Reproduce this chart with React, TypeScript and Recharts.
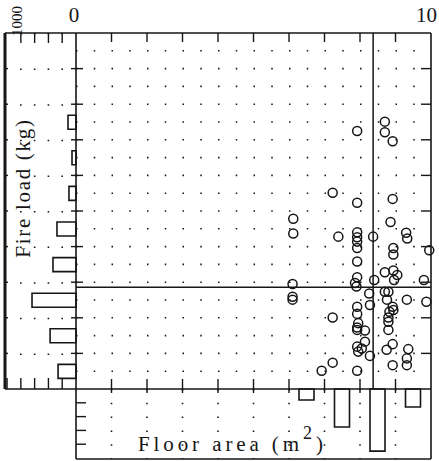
import React from 'react';
import {
  ComposedChart,
  Scatter,
  Bar,
  XAxis,
  YAxis,
  ZAxis,
  CartesianGrid,
  ReferenceLine,
} from 'recharts';

const W = 439;
const H = 461;
const INK = '#161616';
const T = 0.01; // near-zero axis thickness, so the plot sits right on the margins

// scatter: floor area (m2) vs fire load (kg)
const floorArea = [
  8.7, 7.92, 8.7, 8.92, 7.23, 8.92, 7.92, 6.12, 8.86, 6.12, 7.39, 7.92, 7.92, 7.92, 8.37, 9.3, 9.33,
  8.94, 8.94, 7.92, 9.95, 7.92, 8.7, 8.94, 9.05, 8.96, 7.92, 7.86, 7.9, 8.4, 6.1, 9.8, 6.1, 6.1,
  8.26, 8.7, 8.8, 8.76, 8.28, 9.32, 9.87, 7.92, 8.92, 8.94, 8.83, 7.92, 8.8, 8.8, 7.23, 7.95, 7.92,
  7.92, 8.14, 8.8, 8.14, 7.92, 8.05, 7.95, 8.28, 8.75, 8.92, 9.36, 9.32, 9.32, 7.23, 8.92, 6.92, 7.92,
];
const fireLoad = [
  751, 725, 721, 696, 551, 534, 523, 478, 469, 437, 428, 440, 426, 414, 428, 439, 423,
  396, 378, 396, 390, 358, 328, 333, 320, 306, 314, 298, 288, 306, 295, 306, 259, 251,
  268, 273, 273, 251, 236, 251, 245, 231, 231, 222, 217, 211, 201, 189, 201, 185, 173,
  166, 164, 166, 133, 119, 114, 105, 93, 110, 126, 112, 86, 67, 74, 67, 51, 51,
];

// mean lines
const meanArea = 8.37;
const meanLoad = 286;

// marginal histogram of fire load (left panel)
const loadBins = [50, 150, 250, 350, 450, 550, 650, 750];
const loadShare = [13.0, 18.8, 31.9, 16.7, 13.8, 5.1, 2.9, 5.8];

// marginal histogram of floor area (bottom panel)
const areaBins = [6.5, 7.5, 8.5, 9.5];
const areaShare = [8, 27.5, 45, 13];

const areaTicks = [0, 1, 2, 3, 4, 5, 6, 7, 8, 9, 10];
const areaEnds = [0, 10];
const areaInner = [1, 2, 3, 4, 5, 6, 7, 8, 9];
const loadTicks = [0, 100, 200, 300, 400, 500, 600, 700, 800, 900, 1000];
const loadInner = [100, 200, 300, 400, 500, 600, 700, 800, 900];
const loadHalf = [
  50, 100, 150, 200, 250, 300, 350, 400, 450, 500, 550, 600, 650, 700, 750, 800, 850, 900, 950,
];
const shareTicks = [10, 20, 30, 40, 50];
const shareInner = [10, 20, 30, 40];

const areaDomain: [number, number] = [0, 10];
const loadDomain: [number, number] = [0, 1000];
const leftShareDomain: [number, number] = [0, 51.5];
const bottomShareDomain: [number, number] = [0, 50.7];

const points = floorArea.map((a, i) => ({ area: a, load: fireLoad[i] }));
const loadHist = loadBins.map((b, i) => ({ load: b, share: loadShare[i] }));
const areaHist = areaBins.map((b, i) => ({ area: b, share: areaShare[i] }));

// frame tick anchors, placed through the axis scales
const topTicks = areaInner.map((a) => ({ area: a, load: loadDomain[1] }));
const bottomTicks = areaInner.map((a) => ({ area: a, load: loadDomain[0] }));
const leftTicks = loadInner.map((l) => ({ area: areaDomain[0], load: l }));
const rightTicks = loadInner.map((l) => ({ area: areaDomain[1], load: l }));
const panelTopTicks = shareInner.map((s) => ({ share: s, load: loadDomain[1] }));

const serif = '"Liberation Serif", "DejaVu Serif", serif';

// tick marks only, no labels
const Blank = () => <g />;

// short line from the anchor point, offsets in px
const tickShape = (dx1: number, dy1: number, dx2: number, dy2: number) => (p: any) => (
  <line
    x1={p.cx + dx1}
    y1={p.cy + dy1}
    x2={p.cx + dx2}
    y2={p.cy + dy2}
    stroke={INK}
    strokeWidth={1.4}
  />
);

const TopTick = (props: any) => {
  const { x, payload } = props;
  const end = payload.value === 10;
  return (
    <text
      x={end ? x + 6 : x - 2}
      y={22}
      textAnchor={end ? 'end' : 'middle'}
      fontFamily={serif}
      fontSize={21}
      fill={INK}
    >
      {payload.value}
    </text>
  );
};

// grid positions: linear map of the values over the plot box
const xGrid = (vals: number[], [d0, d1]: [number, number], rev = false) => (p: any) =>
  vals.map((v) => {
    const t = (v - d0) / (d1 - d0);
    return p.offset.left + (rev ? 1 - t : t) * p.offset.width;
  });
const yGrid = (vals: number[], [d0, d1]: [number, number], rev = false) => (p: any) =>
  vals.map((v) => {
    const t = (v - d0) / (d1 - d0);
    return p.offset.top + (rev ? t : 1 - t) * p.offset.height;
  });

const abs = (left: number, top: number, extra: React.CSSProperties = {}): React.CSSProperties => ({
  position: 'absolute',
  left,
  top,
  whiteSpace: 'nowrap',
  lineHeight: 1,
  color: INK,
  fontFamily: serif,
  ...extra,
});

const axisLine = { stroke: INK, strokeWidth: 1.6 };
const tickLine = { stroke: INK, strokeWidth: 1.4 };

export default function App() {
  return (
    <div style={{ position: 'absolute', left: 0, top: 0, width: W, height: H, background: '#fff' }}>
      {/* left panel: fire load histogram */}
      <div style={{ position: 'absolute', left: 0, top: 0 }}>
        <ComposedChart
          width={W}
          height={H}
          layout="vertical"
          data={loadHist}
          margin={{ top: 33, left: 5, right: W - 76, bottom: 72 }}
        >
          <CartesianGrid
            xAxisId="b"
            yAxisId="l"
            horizontal={false}
            verticalCoordinatesGenerator={xGrid(shareInner, leftShareDomain, true)}
            stroke={INK}
            strokeWidth={1.6}
            strokeDasharray="1.5 34.1"
          />
          <XAxis xAxisId="b" type="number" dataKey="share" domain={leftShareDomain} reversed orientation="bottom"
            ticks={shareTicks} interval={0} mirror tick={Blank} tickSize={11} height={T}
            axisLine={axisLine} tickLine={tickLine} />
          <XAxis xAxisId="t" type="number" dataKey="share" domain={leftShareDomain} reversed orientation="top"
            ticks={shareInner} interval={0} mirror tick={Blank} tickLine={false} height={T} axisLine={axisLine} />
          <YAxis yAxisId="l" type="number" dataKey="load" domain={loadDomain} reversed orientation="left"
            ticks={loadInner} interval={0} mirror tick={Blank} tickSize={3} width={T}
            axisLine={{ stroke: INK, strokeWidth: 3 }} tickLine={tickLine} />
          <Bar xAxisId="b" yAxisId="l" dataKey="share" barSize={14} fill="none" stroke={INK} strokeWidth={1.6}
            isAnimationActive={false} />
          <Scatter xAxisId="b" yAxisId="l" data={panelTopTicks} shape={tickShape(0, 0, 0, 10)}
            isAnimationActive={false} />
        </ComposedChart>
      </div>

      {/* bottom panel: floor area histogram */}
      <div style={{ position: 'absolute', left: 0, top: 0 }}>
        <ComposedChart
          width={W}
          height={H}
          data={areaHist}
          margin={{ top: 389, left: 76, right: 8, bottom: 2 }}
        >
          <CartesianGrid
            xAxisId="b"
            yAxisId="l"
            horizontal={false}
            verticalCoordinatesGenerator={xGrid(areaInner, areaDomain)}
            stroke={INK}
            strokeWidth={1.6}
            strokeDasharray="1.5 12.31"
          />
          <XAxis xAxisId="b" type="number" dataKey="area" domain={areaDomain} ticks={areaTicks} orientation="bottom"
            interval={0} tick={Blank} tickLine={false} height={T} axisLine={axisLine} />
          <YAxis yAxisId="l" type="number" domain={bottomShareDomain} reversed orientation="left" ticks={shareInner}
            interval={0} mirror tick={Blank} tickSize={10} width={T} axisLine={axisLine} tickLine={tickLine} />
          <YAxis yAxisId="r" type="number" domain={bottomShareDomain} reversed orientation="right" ticks={shareInner}
            interval={0} mirror tick={Blank} tickSize={10} width={T} axisLine={axisLine} tickLine={tickLine} />
          <Bar xAxisId="b" yAxisId="l" dataKey="share" barSize={15} fill="none" stroke={INK} strokeWidth={1.6}
            isAnimationActive={false} />
        </ComposedChart>
      </div>

      {/* main scatter */}
      <div style={{ position: 'absolute', left: 0, top: 0 }}>
        <ComposedChart width={W} height={H} data={points} margin={{ top: 33, left: 76, right: 8, bottom: 72 }}>
          <CartesianGrid
            xAxisId="b"
            yAxisId="l"
            vertical={false}
            horizontalCoordinatesGenerator={yGrid(loadHalf, loadDomain)}
            stroke={INK}
            strokeWidth={1.6}
            strokeDasharray="1.5 16.25"
          />
          <XAxis xAxisId="b" type="number" dataKey="area" domain={areaDomain} ticks={areaTicks} orientation="bottom"
            interval={0} tick={Blank} tickLine={false} height={T} axisLine={axisLine} />
          <XAxis xAxisId="t" type="number" dataKey="area" domain={areaDomain} ticks={areaTicks} orientation="top"
            interval={0} mirror tick={Blank} tickLine={false} height={T} axisLine={axisLine} />
          <XAxis xAxisId="tl" type="number" dataKey="area" domain={areaDomain} ticks={areaEnds} orientation="top"
            interval={0} tick={TopTick} tickLine={false} height={T} axisLine={false} />
          <YAxis yAxisId="l" type="number" dataKey="load" domain={loadDomain} ticks={loadTicks} orientation="left"
            interval={0} tick={Blank} tickLine={false} width={T} axisLine={axisLine} />
          <YAxis yAxisId="r" type="number" dataKey="load" domain={loadDomain} ticks={loadTicks} orientation="right"
            interval={0} mirror tick={Blank} tickLine={false} width={T} axisLine={axisLine} />
          <ZAxis range={[58, 58]} />
          <ReferenceLine xAxisId="b" yAxisId="l" x={meanArea} stroke={INK} strokeWidth={1.5} />
          <ReferenceLine xAxisId="b" yAxisId="l" y={meanLoad} stroke={INK} strokeWidth={1.5} />
          <Scatter xAxisId="b" yAxisId="l" data={topTicks} shape={tickShape(0, 0, 0, 9)} isAnimationActive={false} />
          <Scatter xAxisId="b" yAxisId="l" data={bottomTicks} shape={tickShape(0, -10, 0, 4)}
            isAnimationActive={false} />
          <Scatter xAxisId="b" yAxisId="l" data={leftTicks} shape={tickShape(-5, 0, 7, 0)} isAnimationActive={false} />
          <Scatter xAxisId="b" yAxisId="l" data={rightTicks} shape={tickShape(-10, 0, 0, 0)}
            isAnimationActive={false} />
          <Scatter
            xAxisId="b"
            yAxisId="l"
            data={points}
            shape="circle"
            fill="none"
            stroke={INK}
            strokeWidth={1.5}
            isAnimationActive={false}
          />
        </ComposedChart>
      </div>

      {/* texts */}
      <div style={abs(17, 21, { fontSize: 15, transform: 'translate(-50%, -50%) rotate(-90deg)' })}>1000</div>
      <div
        style={abs(23, 188, {
          fontSize: 21,
          letterSpacing: 1.7,
          transform: 'translate(-50%, -50%) rotate(-90deg)',
        })}
      >
        Fire load (kg)
      </div>
      <div style={abs(138, 434, { fontSize: 21, letterSpacing: 3.9 })}>
        Floor area (m<sup style={{ fontSize: 18, verticalAlign: 'top', position: 'relative', top: -10 }}>2</sup>)
      </div>
    </div>
  );
}
